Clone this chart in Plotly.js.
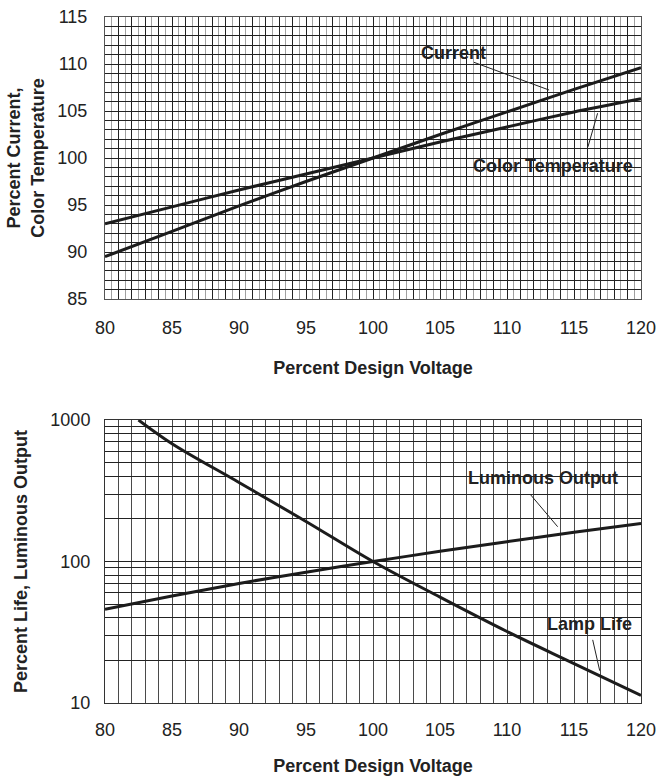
<!DOCTYPE html>
<html><head><meta charset="utf-8">
<script src="https://cdn.plot.ly/plotly-3.0.1.min.js"></script>
<style>body{margin:0;background:#fff}</style>
</head><body><div id="chart" style="width:662px;height:776px"></div>
<script>
// ---- data ----
const voltage = [80, 85, 90, 95, 100, 105, 110, 115, 120];
const currentPct = [89.5, 92.2, 94.9, 97.5, 100, 102.5, 104.9, 107.3, 109.6];
const colorTempPct = [93.0, 94.8, 96.6, 98.3, 100, 101.7, 103.3, 104.9, 106.3];
const voltageLife = [82.5, 85, 90, 95, 100, 105, 110, 115, 120];
const lampLifePct = [1000, 680, 362, 192, 100, 56, 32, 19, 11.3];
const luminousPct = [46, 57, 70, 84, 100, 118, 138, 161, 186];

const xLabelVals = [80, 85, 90, 95, 100, 105, 110, 115, 120];
const yTopLabelVals = [85, 90, 95, 100, 105, 110, 115];
const yLogLabelVals = [10, 100, 1000];

// ---- grid positions (axis styling) ----
function intRange(a, b) { const r = []; for (let v = a; v <= b; v++) r.push(v); return r; }
const xGrid = intRange(80, 120);
const xGridText = xGrid.map(v => xLabelVals.includes(v) ? String(v) : '');
const yTopGrid = intRange(85, 115);
const yTopGridText = yTopGrid.map(v => yTopLabelVals.includes(v) ? String(v) : '');
const yLogGrid = [];
[10, 100].forEach(d => { for (let k = 1; k <= 9; k++) yLogGrid.push(d * k); });
yLogGrid.push(1000);
const yLogGridText = yLogGrid.map(v => yLogLabelVals.includes(v) ? String(v) : '');

const FONT = 'Liberation Sans, Arial, Helvetica, sans-serif';
const INK = '#1c1c1c';
const DARK = '#222222';
const GRAY = '#a0a0a0';

const lineStyle = {color: INK, width: 3};
const traces = [
  {x: voltage, y: currentPct, type: 'scatter', mode: 'lines', name: 'Current', line: Object.assign({shape: 'spline', smoothing: 0.6}, lineStyle), xaxis: 'x', yaxis: 'y', hoverinfo: 'skip'},
  {x: voltage, y: colorTempPct, type: 'scatter', mode: 'lines', name: 'Color Temperature', line: Object.assign({shape: 'spline', smoothing: 0.6}, lineStyle), xaxis: 'x', yaxis: 'y', hoverinfo: 'skip'},
  {x: voltageLife, y: lampLifePct, type: 'scatter', mode: 'lines', name: 'Lamp Life', line: Object.assign({shape: 'spline', smoothing: 1}, lineStyle), xaxis: 'x2', yaxis: 'y2', hoverinfo: 'skip'},
  {x: voltage, y: luminousPct, type: 'scatter', mode: 'lines', name: 'Luminous Output', line: Object.assign({shape: 'spline', smoothing: 0.6}, lineStyle), xaxis: 'x2', yaxis: 'y2', hoverinfo: 'skip'}
];

const tickFont = {family: FONT, size: 18, color: '#222'};
const titleFont = {family: FONT, size: 18, color: '#222', weight: 'bold'};
const labelFont = {family: FONT, size: 18, color: '#222', weight: 'bold'};

const layout = {
  width: 662, height: 776,
  margin: {l: 105, r: 21, t: 17, b: 73},
  paper_bgcolor: '#fff', plot_bgcolor: '#fff',
  showlegend: false,
  font: {family: FONT, color: '#222'},
  xaxis: {
    domain: [0, 1], anchor: 'y', range: [80, 120],
    tickmode: 'array', tickvals: xGrid, ticktext: xGridText,
    ticks: 'outside', ticklen: 12, tickcolor: 'rgba(0,0,0,0)',
    tickfont: tickFont,
    showgrid: true, gridcolor: DARK, gridwidth: 1,
    minor: {dtick: 0.5, tick0: 80, showgrid: true, gridcolor: GRAY, gridwidth: 1, ticks: ''},
    showline: true, mirror: true, linecolor: '#555', linewidth: 1,
    zeroline: false,
    title: {text: 'Percent Design Voltage', font: titleFont, standoff: 24}
  },
  yaxis: {
    domain: [0.5889, 1], anchor: 'x', range: [85, 115],
    tickmode: 'array', tickvals: yTopGrid, ticktext: yTopGridText,
    ticks: 'outside', ticklen: 13, tickcolor: 'rgba(0,0,0,0)',
    tickfont: tickFont,
    showgrid: true, gridcolor: DARK, gridwidth: 1,
    showline: true, mirror: true, linecolor: '#555', linewidth: 1,
    zeroline: false,
    title: {text: 'Percent Current,<br>Color Temperature', font: titleFont, standoff: 8}
  },
  xaxis2: {
    domain: [0, 1], anchor: 'y2', range: [80, 120],
    tickmode: 'array', tickvals: xGrid, ticktext: xGridText,
    ticks: 'outside', ticklen: 10, tickcolor: 'rgba(0,0,0,0)',
    tickfont: tickFont,
    showgrid: true, gridcolor: '#4a4a4a', gridwidth: 1,
    showline: true, mirror: true, linecolor: '#333', linewidth: 1,
    zeroline: false,
    title: {text: 'Percent Design Voltage', font: titleFont, standoff: 25}
  },
  yaxis2: {
    domain: [0, 0.4125], anchor: 'x2', type: 'log', range: [1, 3],
    tickmode: 'array', tickvals: yLogGrid, ticktext: yLogGridText,
    ticks: 'outside', ticklen: 10, tickcolor: 'rgba(0,0,0,0)',
    tickfont: tickFont,
    showgrid: true, gridcolor: DARK, gridwidth: 1,
    showline: true, mirror: true, linecolor: '#333', linewidth: 1,
    zeroline: false,
    title: {text: 'Percent Life, Luminous Output', font: titleFont, standoff: 18}
  },
  annotations: [
    {xref: 'x', yref: 'y', x: 106.0, y: 111.2, text: 'Current', showarrow: false, font: labelFont},
    {xref: 'x', yref: 'y', x: 113.14, y: 107.23, axref: 'x', ayref: 'y', ax: 107.42, ay: 110.24, text: '', showarrow: true, arrowhead: 0, arrowwidth: 1, arrowcolor: '#222', standoff: 0, startstandoff: 0},
    {xref: 'x', yref: 'y', x: 113.46, y: 99.18, text: 'Color Temperature', showarrow: false, font: labelFont},
    {xref: 'x', yref: 'y', x: 116.76, y: 104.76, axref: 'x', ayref: 'y', ax: 116.01, ay: 101.03, text: '', showarrow: true, arrowhead: 0, arrowwidth: 1, arrowcolor: '#222', standoff: 0, startstandoff: 0},
    {xref: 'x2', yref: 'y2', x: 112.65, y: 2.588, text: 'Luminous Output', showarrow: false, font: labelFont},
    {xref: 'x2', yref: 'y2', x: 113.78, y: 2.246, axref: 'x2', ayref: 'y2', ax: 111.67, ay: 2.482, text: '', showarrow: true, arrowhead: 0, arrowwidth: 1, arrowcolor: '#222', standoff: 0, startstandoff: 0},
    {xref: 'x2', yref: 'y2', x: 116.19, y: 1.558, text: 'Lamp Life', showarrow: false, font: labelFont},
    {xref: 'x2', yref: 'y2', x: 116.92, y: 1.228, axref: 'x2', ayref: 'y2', ax: 116.37, ay: 1.457, text: '', showarrow: true, arrowhead: 0, arrowwidth: 1, arrowcolor: '#222', standoff: 0, startstandoff: 0}
  ]
};

Plotly.newPlot('chart', traces, layout, {staticPlot: true, displayModeBar: false});
</script>
</body></html>
